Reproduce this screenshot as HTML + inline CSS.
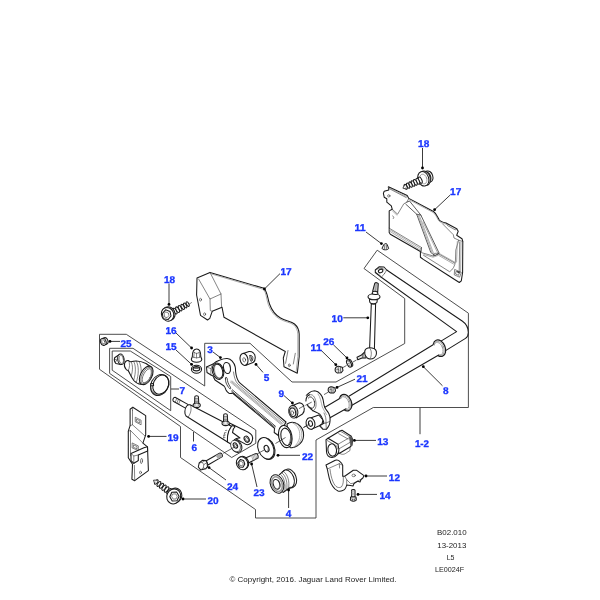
<!DOCTYPE html>
<html><head><meta charset="utf-8"><title>B02.010</title>
<style>
html,body{margin:0;padding:0;background:#fff;}
body{width:600px;height:600px;overflow:hidden;font-family:"Liberation Sans",sans-serif;}
svg{display:block;position:absolute;left:0;top:0;will-change:transform;}
.fr{fill:none;stroke:#3a3a3a;stroke-width:.9;stroke-linejoin:miter;}
.p{fill:#fff;stroke:#1a1a1a;stroke-width:1.05;stroke-linejoin:round;stroke-linecap:round;}
.n{fill:none;stroke:#1a1a1a;stroke-width:1.05;stroke-linejoin:round;stroke-linecap:round;}
.t{fill:none;stroke:#333;stroke-width:.6;stroke-linejoin:round;stroke-linecap:round;}
.g{fill:none;stroke:#8a8a8a;stroke-width:.7;stroke-linejoin:round;stroke-linecap:round;}
.c{fill:none;stroke:#222;stroke-width:.7;}
.ld line{stroke:#3c3c3c;stroke-width:1;}
.dt circle{fill:#000;}
.lb text{text-rendering:geometricPrecision;font-family:"Liberation Sans",sans-serif;font-weight:bold;font-size:9.8px;fill:#1b36ff;stroke:#1b36ff;stroke-width:.3;text-anchor:middle;}
.ft text{font-family:"Liberation Sans",sans-serif;font-size:7.6px;fill:#222;text-anchor:middle;}
</style></head><body>
<svg width="600" height="600" viewBox="0 0 600 600">
<rect width="600" height="600" fill="#fff"/>
<!-- FRAMES -->
<g class="fr">
<path d="M377.2,250.2 L468.4,313.2 L468.4,407.5 L373.3,407.5 L316,440 L316,518 L255.5,518 L255.5,509.5 L180.5,457.5 L180.5,426.5 L99.5,369.3 L99.5,334.3 L126.3,334.3 L204.7,386 L204.7,343.3 L250,343.3 L292,382 L336,382 L404.7,343.5 L404.7,298.5 L364,268.5 Z"/>
<path d="M109.6,348.3 L133,348.3 L255.8,430 L255.8,443.3 L231.7,457.5 L109.6,373.4 Z"/>
<path d="M112.2,351 L130.3,351 L170.7,376.5 L170.7,410.7 L112.2,370.2 Z"/>
</g>

<!-- SWAY BAR 8 -->
<g id="bar8">
<!-- upper section + bend -->
<path class="p" d="M379.3,266.7 L384,267 L386.7,270 L462.5,321.2 C466,323.6 468.3,328 468.3,332.5 C468.3,335.5 467.3,337.3 465.5,338.4 L444,351.6 L438.5,342.6 L456.6,331.6 L381.3,277.3 L375.3,272.5 L375.3,270 Z"/>
<ellipse class="n" cx="380.6" cy="271" rx="2.3" ry="1.7" transform="rotate(-20 380.6 271)"/><path class="t" d="M377,269.3 C379,267.6 383,267.8 384.6,270 M376.3,272.6 L380.6,276"/>
<path class="t" d="M384.7,273.3 L381.3,277.3 M386.7,270 L384.7,273.3"/>
<!-- right ring -->
<ellipse class="p" cx="439.4" cy="348.2" rx="5.8" ry="8.6" transform="rotate(-22 439.4 348.2)" style="stroke-width:1.25"/>
<ellipse class="g" cx="439" cy="348.4" rx="4.8" ry="7.5" transform="rotate(-22 439 348.4)"/>
<ellipse class="g" cx="438.6" cy="348.6" rx="4" ry="6.6" transform="rotate(-22 438.6 348.6)"/>
<!-- middle bar -->
<path d="M432.7,345 C435.5,344.6 440.5,351.5 438.7,355 L352,405.3 L349.3,396 Z" fill="#fff" stroke="none"/>
<path class="n" d="M432.7,345 L349.3,396 M438.7,355 L352,405.3"/>
<!-- left ring -->
<ellipse class="p" cx="345.6" cy="402.6" rx="5.8" ry="8.6" transform="rotate(-22 345.6 402.6)" style="stroke-width:1.25"/>
<ellipse class="g" cx="345.2" cy="402.8" rx="4.8" ry="7.5" transform="rotate(-22 345.2 402.8)"/>
<ellipse class="g" cx="344.8" cy="403" rx="4" ry="6.6" transform="rotate(-22 344.8 403)"/>
<!-- shaft left of ring -->
<path d="M339.3,398.7 C342,398.3 347.3,405.3 346,408.7 L326,420 L322,409 Z" fill="#fff" stroke="none"/>
<path class="n" d="M339.3,398.7 L322,409 M346,408.7 L326,420"/>
</g>
<!-- PLATE 17 TOP RIGHT -->
<g id="plate17r">
<path class="p" d="M388.4,186.7 L407.2,195.5 L408.8,198.4 L433.5,211.5 C436,213 437,216 439.3,220 C440.5,221.6 443,222.3 446,223 L456.7,228.7 L458.2,231.3 L456.7,235.3 L462,238.7 L462.8,241.5 L462.6,272.5 L461.3,280.8 L459.3,282.5 L448,275.2 L423.3,259.4 L420.4,257.3 L420.4,251.5 L390.3,234.2 L389.2,232.5 L389.2,210.9 L392.2,209.2 L391.3,205.9 L386.8,202.2 L386.8,198.8 L384.2,197.2 L383.4,193.4 L384.2,191.3 L388.8,190 Z"/>
<path class="t" d="M388.8,188.4 L406.3,197.6 M392.2,209.2 L397.6,214.2 L403.8,203.8 L406.8,202.2 L408.8,198.4"/>
<circle class="t" cx="388.8" cy="195.9" r="1.2"/>
<path class="t" d="M392.6,216 L394,217.3 L393.2,218.6"/>
<path class="g" d="M388,187.6 L406.6,196.6 M392.5,211 L397,215.2"/>
<!-- diagonal rib -->
<path class="t" d="M405.8,204.2 L416.7,214.2 L430.8,252.5 L435,255.6 L439.2,253.3 L420.8,215 L416.7,214.2 M406.8,202.2 L409.5,201 L420.8,215" style="stroke-width:.8"/>
<path class="g" d="M418,215 L432.2,253 M419.3,215.3 L433.6,253.6 M423,222 L437.8,253.2"/>
<!-- top right edge double -->
<path class="g" d="M409,199.6 L433,212.4 C435.5,214 436.5,217 438.5,220.5 C440,222.5 443,223.3 445.5,224"/>
<!-- right flange -->
<path class="t" d="M442.7,224 L453.3,234.7 L454,238 L458.7,240.2 L455.8,250 L455.4,261.7 C455,266 452.5,270 449.6,271.7 L423.5,255.3 M458.7,240.2 L462.8,241.5 M446,223 L447.5,225.5 L455.5,230 L456.7,228.7 M459.7,242 L459.2,271.7"/>
<path class="g" d="M461,242 L460.6,272 M457.3,241.5 L456.6,262"/>
<!-- bottom flange -->
<path class="t" d="M389.2,228.2 L421.5,247.5 L421.3,252.6 L433.3,256 L438.7,254 L454.6,263 M420.4,251.5 L421.5,247.5 M433.3,256 L434.7,253.3 L438.7,253.3"/>
<path class="g" d="M389.6,229.6 L421,248.8 M389.6,231.2 L420.5,250.4 M424,254.6 L433,257.2 L438.5,255.3 L453.5,264 M439.5,253.6 L455,262.3"/>
<path class="t" d="M455,269.6 L461.3,272.5 L459.6,277.2 L454.6,275 Z M456.3,271.5 L459.3,272.9 L458.5,275.3 L456,274.2 Z"/><path d="M456.8,270.4 L460,271.9 L459.3,273.6 L457.6,272.6 Z" fill="#333"/>
</g>

<!-- BOLT 18 TOP RIGHT -->
<g id="bolt18r">
<ellipse class="p" cx="428.6" cy="176.6" rx="4.2" ry="5.8" transform="rotate(-18 428.6 176.6)"/>
<ellipse class="p" cx="426.6" cy="177.4" rx="4.2" ry="5.8" transform="rotate(-18 426.6 177.4)"/>
<ellipse class="p" cx="424.8" cy="178.3" rx="5.4" ry="7.4" transform="rotate(-18 424.8 178.3)"/>
<ellipse class="p" cx="423.3" cy="178.8" rx="5.4" ry="7.4" transform="rotate(-18 423.3 178.8)"/>
<ellipse class="g" cx="423.4" cy="179" rx="3.4" ry="5" transform="rotate(-18 423.4 179)"/>
<ellipse class="p" cx="420.3" cy="180.2" rx="1.50" ry="3.34" transform="rotate(155.4 420.3 180.2)" style="stroke-width:1"/>
<ellipse class="p" cx="417.9" cy="181.3" rx="1.45" ry="3.23" transform="rotate(155.4 417.9 181.3)" style="stroke-width:1"/>
<ellipse class="p" cx="415.4" cy="182.4" rx="1.40" ry="3.11" transform="rotate(155.4 415.4 182.4)" style="stroke-width:1"/>
<ellipse class="p" cx="413.0" cy="183.5" rx="1.35" ry="3.00" transform="rotate(155.4 413.0 183.5)" style="stroke-width:1"/>
<ellipse class="p" cx="410.6" cy="184.6" rx="1.30" ry="2.89" transform="rotate(155.4 410.6 184.6)" style="stroke-width:1"/>
<ellipse class="p" cx="408.1" cy="185.7" rx="1.25" ry="2.77" transform="rotate(155.4 408.1 185.7)" style="stroke-width:1"/>
<ellipse class="p" cx="405.7" cy="186.8" rx="1.20" ry="2.66" transform="rotate(155.4 405.7 186.8)" style="stroke-width:1"/>
<path class="p" d="M404.4,185.2 L402.9,188.2 L406.1,189.0" style="stroke-width:.8"/>
</g>
<!-- PLATE 17 LEFT -->
<g id="plate17l">
<path class="p" d="M197,278 L210,272.4 L264,288.3 C267.5,292 267.5,298 269.5,304 C272,311 276,315.5 280.5,318 C285.5,321 291,321.3 294.5,324 C297.5,326.5 299,330 299.2,334 L299.2,356.7 L297.3,373.3 L284,366.7 L283.3,358 L285.3,351.5 L224,317.3 L222,307.2 L212.2,311.3 L209.8,318.3 L207.5,320 L200.5,315.4 L198.7,306 L196.6,295 Z"/>
<path class="t" d="M210,272.4 L221,294 L221.6,307.3 M198.6,279 L210,299 L221,294 M210,299 L210.3,310.5 L212.2,311.3"/>
<path class="g" d="M211,273.8 L263.5,289.4 C266.3,292.6 266.3,298.3 268.2,304.3 C270.8,311.6 274.9,316.4 279.8,319 C285,322 290.5,322.4 293.6,324.8 C296.2,327 297.6,330.3 297.8,334 L297.8,356.5 L296.2,371.5"/>
<path class="t" d="M288,350.5 L285.6,363.3 M295.3,353.3 L293.3,364"/>
<ellipse class="t" cx="200.5" cy="299.7" rx="1" ry="1.4"/>
<ellipse class="t" cx="204.6" cy="314.2" rx="1" ry="1.4"/>
<ellipse class="t" cx="289.3" cy="365.3" rx="0.9" ry="1.4"/>
</g>

<!-- BOLT 18 LEFT -->
<g id="bolt18l">
<path class="t" d="M188.6,304.6 L191.5,302.6"/>
<ellipse class="p" cx="175.1" cy="311.1" rx="1.45" ry="3.22" transform="rotate(-28.9 175.1 311.1)" style="stroke-width:1"/>
<ellipse class="p" cx="177.6" cy="309.7" rx="1.38" ry="3.07" transform="rotate(-28.9 177.6 309.7)" style="stroke-width:1"/>
<ellipse class="p" cx="180.1" cy="308.3" rx="1.32" ry="2.92" transform="rotate(-28.9 180.1 308.3)" style="stroke-width:1"/>
<ellipse class="p" cx="182.7" cy="306.9" rx="1.25" ry="2.77" transform="rotate(-28.9 182.7 306.9)" style="stroke-width:1"/>
<ellipse class="p" cx="185.2" cy="305.5" rx="1.18" ry="2.62" transform="rotate(-28.9 185.2 305.5)" style="stroke-width:1"/>
<ellipse class="p" cx="187.7" cy="304.1" rx="1.11" ry="2.48" transform="rotate(-28.9 187.7 304.1)" style="stroke-width:1"/>
<ellipse class="p" cx="168.8" cy="313.6" rx="6.1" ry="7" transform="rotate(-25 168.8 313.6)"/>
<ellipse class="p" cx="167.6" cy="314.3" rx="6.1" ry="7" transform="rotate(-25 167.6 314.3)"/>
<path class="p" d="M165.6,309.8 L170,311.4 L171,316 L168,319.6 L163.3,318.8 L162.3,313.6 Z"/>
<path class="t" d="M165.8,312 L168.4,313 L168.9,315.6 L167.2,317.6 L164.7,317.1 L164.2,314.2 Z"/>
</g>

<!-- CAP NUT 16 -->
<g id="nut16">
<path class="p" d="M192.3,356.7 C192.3,351.5 193.5,349 196.7,349 C199.8,349 200.8,351.5 200.8,356.7 L201.8,359.2 C201.5,363.2 191.6,363.2 191.3,359.3 Z"/>
<path class="t" d="M192.3,356.7 C194,358.3 199,358.3 200.8,356.7 M196.5,353.5 L196.6,358 M194.2,352.3 C195.5,353.8 198,353.8 199.2,352.3 M194.2,352.3 L193.8,357.3 M199.2,352.3 L199.6,357.3"/>
</g>
<!-- WASHER 15 -->
<g id="washer15">
<ellipse class="p" cx="196.5" cy="369.3" rx="5.1" ry="4"/>
<ellipse class="p" cx="196.4" cy="368.8" rx="3.4" ry="2.1" style="stroke-width:1.2"/>
<path d="M193.8,368.2 C194.5,366.9 198.3,366.9 199,368.2 C198,369 194.8,369 193.8,368.2 Z" fill="#444" stroke="none"/>
</g>
<!-- CLIP 25 -->
<g id="clip25">
<ellipse class="p" cx="105.3" cy="341" rx="2.6" ry="3.4" transform="rotate(-20 105.3 341)"/>
<ellipse class="p" cx="103.3" cy="341.8" rx="2.8" ry="3.6" transform="rotate(-20 103.3 341.8)"/>
<ellipse class="t" cx="103.3" cy="341.8" rx="1.5" ry="2.2" transform="rotate(-20 103.3 341.8)"/>
</g>
<!-- LINK 10 -->
<g id="link10">
<path class="p" d="M371.3,304 L369.6,348.5 L374.4,349 L375.6,304 Z"/>
<path class="p" d="M374.8,283.2 C375.5,282.3 377.8,282.5 378.3,283.7 L377.7,292 L372.6,291.3 Z" style="fill:#c4c4c4"/>
<path class="g" d="M376.3,283.5 L375.3,291.5"/>
<path class="p" d="M369.4,299.5 L369.8,302.2 C371,304.3 375.5,304.5 377,302.2 L377.3,299.5 Z"/>
<ellipse class="p" cx="374" cy="296.8" rx="6" ry="3"/>
<path class="p" d="M372.2,293 C372.5,290.5 377.5,290.8 378,293.2 C378,295 372.2,294.8 372.2,293 Z"/>
<path class="t" d="M368.2,297.5 C369.5,300.3 378.5,300.5 379.8,297.6"/>
<!-- bottom ball joint -->
<path class="p" d="M357,357.3 L357.8,359.8 L362,358 L366,358 L366,350.8 L361.5,355 Z" style="fill:#e6e6e6"/>
<path class="t" d="M363.6,353 L364,358 M362.3,354.3 L362.6,358"/>
<path class="p" d="M364.8,351 C365.5,348.3 368.5,347.5 372,348 C375.3,348.5 376.8,351 376.4,354 C376,357.3 373,359.3 369.8,359 C366.3,358.6 364.2,355 364.8,351 Z"/>
<path class="t" d="M369.8,348.2 C371.8,350.5 372,355.5 370,358.8"/>
</g>
<!-- WASHER 26 -->
<g id="washer26">
<ellipse class="p" cx="350.2" cy="363" rx="2" ry="3.9" transform="rotate(-25 350.2 363)"/>
<ellipse class="p" cx="349" cy="363.5" rx="2" ry="3.9" transform="rotate(-25 349 363.5)"/>
<path class="t" d="M347.8,361.6 L349.6,362 M347.8,363.5 L349.9,364 M348.5,365.4 L350.3,365.8"/>
</g>
<!-- NUT 11 lower -->
<g id="nut11b">
<path class="p" style="fill:#e4e4e4" d="M335.3,368.5 C335.8,366.5 338,366 339.5,366.4 L342.3,367.2 L343,370.5 L341,372.8 L337.3,373 C335.5,372.3 334.8,370.5 335.3,368.5 Z"/>
<path class="t" d="M338.2,366.8 L338.5,372.6 M340.6,367 L340.4,372.6 M336.2,370 C337,368.8 338.5,368.8 339,370"/>
</g>
<!-- NUT 11 upper -->
<g id="nut11a" transform="translate(385.3 247.2) scale(0.92) translate(-385.2 -247.3)">
<path class="p" style="fill:#e4e4e4" d="M383.8,244.2 C384.5,243 386.5,243 387.2,244.2 L388.8,248.6 C388.5,250.6 382,250.8 381.7,248.8 Z"/>
<path class="t" d="M384.6,244.8 L384.2,249.6 M386.4,244.8 L386.7,249.6"/>
</g>
<!-- NUT 21 -->
<g id="nut21">
<path class="p" style="fill:#e4e4e4" d="M328.3,388.6 C328.8,386.8 331,386.5 332.5,387 L335,388 L335.5,391 L333.8,393 L330.5,393 C328.8,392.3 327.8,390.5 328.3,388.6 Z"/>
<path class="t" d="M331,387 L331.3,392.8 M333.2,387.3 L333,392.8 M329.3,390 C330,389 331.2,389 331.8,390"/>
</g>
<g class="c">
<path d="M343,367.5 L346.5,365.5 M353,362 L356.5,360 M324,394.6 L328,392.3"/>
</g>
<!-- BOOT KIT 7 -->
<g id="boot7">
<!-- small clamp -->
<path class="p" d="M119.8,354.2 L114.6,357.8 C114,359.5 114.6,362 116,363.6 L120.5,364.6 Z"/>
<ellipse class="p" cx="120.9" cy="359.3" rx="3.2" ry="5.3" transform="rotate(-8 120.9 359.3)"/>
<ellipse class="t" cx="121.2" cy="359.4" rx="2.2" ry="4.2" transform="rotate(-8 121.2 359.4)"/>
<path class="t" d="M114.9,359.6 L116.3,359.2 L116.6,361 L115.3,361.4"/>
<!-- boot body -->
<path class="p" d="M124.6,363.4 C125.3,361.3 127.3,360.3 128.6,360.6 C129.3,361.3 130,361.8 131,361.7 C135,360.5 141,361 146,363.5 L151,367 L141.5,384.5 C138,384 135.3,382.3 133.8,380.5 C131.5,377.5 130,373.5 128.2,370.6 C127.3,370.3 126.6,370 126.2,369.5 C124.8,368 124,365.5 124.6,363.4 Z"/>
<path class="t" d="M128.6,360.6 C130,363.5 130,367.5 128.2,370.6 M131,361.7 C133,365 133,370 131.2,376 M133.6,361.3 C136,365.5 136,372 133.8,380 M136.3,361.2 C139,366 139,374 136.3,382.3 M139.2,361.5 C142,367 142,376 138.8,383.8"/>
<ellipse class="p" cx="146.2" cy="375.4" rx="5.7" ry="10" transform="rotate(28 146.2 375.4)"/>
<ellipse class="t" cx="146.6" cy="375.5" rx="4.6" ry="8.8" transform="rotate(28 146.6 375.5)"/>
<ellipse class="t" cx="147" cy="375.7" rx="3.6" ry="7.7" transform="rotate(28 147 375.7)"/>
<path class="g" d="M150.5,369.5 C152.5,372.5 150.5,379 146.5,383.3"/>
<!-- big clamp ring -->
<ellipse class="n" cx="159.6" cy="385" rx="8.6" ry="10.9" transform="rotate(27 159.6 385)"/>
<ellipse class="n" cx="160.9" cy="384.6" rx="7.6" ry="10" transform="rotate(27 160.9 384.6)"/>
<path class="t" d="M155.5,394.2 C158,396 162,395 165,392 M151,387.5 C151.5,390.5 153,393 155.5,394.2"/>
<path class="p" d="M150.6,383.8 L153.4,383.4 L153.6,385.6 L150.8,386 Z"/>
</g>
<!-- CYLINDER 6 -->
<g id="cyl6">
<!-- rod -->
<path class="p" d="M175,397.3 L188.3,404.6 L186.3,408.6 L173.3,401.2 C172.3,400 173.3,397.3 175,397.3 Z"/>
<path class="t" d="M176.8,398.3 L175.2,402.3 M178.5,399.2 L176.9,403.2 M180.2,400.2 L178.6,404.2"/>
<!-- upper lug -->
<path class="p" d="M229.5,423 L248.3,432.3 C251.6,434 253.2,437 252.4,440.2 C251.6,443.2 249,445 246.3,444.6 L229,435 Z"/>
<ellipse class="p" cx="246.7" cy="439.2" rx="2.3" ry="3.3" transform="rotate(-30 246.7 439.2)"/>
<ellipse class="t" cx="247" cy="439.4" rx="1.3" ry="2.1" transform="rotate(-30 247 439.4)"/>
<!-- body -->
<path class="p" d="M190,404.8 L231.5,426.3 C229,430 227.3,436 227.5,442 L186,416 C184.3,414 184.5,409 186.5,406.3 C187.5,405 189,404.5 190,404.8 Z"/>
<path class="t" d="M190,404.8 C192,406.5 191.5,413 188,417.3"/>
<!-- clevis body -->
<path class="p" d="M231.5,426.3 C229.5,429 228,432 227.6,436 C227.3,439 227.4,441 227.5,442 L231.5,444.5 C233,440 236,437.5 240,438 L232.5,432.5 C232.5,430 233.5,428 235,426.8 L233,425.5 Z"/>
<path class="t" d="M226,432.5 L224.5,433 M225.3,435 L223.8,435.4 M225,437.6 L223.6,437.8 M226.8,430.3 L225.5,430.5 M224.5,433 L223.6,437.8"/>
<!-- lower lug -->
<ellipse class="p" cx="236.6" cy="446.4" rx="5" ry="6.3" transform="rotate(-30 236.6 446.4)"/>
<ellipse class="p" cx="235.6" cy="446" rx="4.6" ry="6" transform="rotate(-30 235.6 446)" style="stroke-width:.6"/>
<ellipse class="p" cx="235.4" cy="445.5" rx="1.9" ry="2.9" transform="rotate(-30 235.4 445.5)"/>
<ellipse class="t" cx="235.8" cy="445.8" rx="1" ry="1.8" transform="rotate(-30 235.8 445.8)"/>
<!-- bleed screws -->
<g id="bs1">
<path class="p" d="M194.8,396.8 C194.8,395.4 198.4,395.4 198.4,396.8 L198.8,404 L194.6,404 Z"/>
<path class="t" d="M194.8,398.4 L198.4,398.4 M194.8,400 L198.5,400 M194.7,401.6 L198.6,401.6"/>
<ellipse class="p" cx="196.7" cy="405.3" rx="3.6" ry="2.3"/>
<ellipse class="g" cx="196.7" cy="405" rx="2.3" ry="1.3"/>
</g>
<g transform="translate(28.9 18)">
<path class="p" d="M194.8,396.8 C194.8,395.4 198.4,395.4 198.4,396.8 L198.8,404 L194.6,404 Z"/>
<path class="t" d="M194.8,398.4 L198.4,398.4 M194.8,400 L198.5,400 M194.7,401.6 L198.6,401.6"/>
<ellipse class="p" cx="196.7" cy="405.3" rx="3.6" ry="2.3"/>
<ellipse class="g" cx="196.7" cy="405" rx="2.3" ry="1.3"/>
</g>
</g>
<g class="c"><path d="M234.6,447 L223.3,453.3"/></g>
<!-- LINK ARM 3 -->
<g id="arm3">
<!-- arm + big end silhouette -->
<path class="p" d="M206.5,367 L213,364 C215,362 217.5,360.8 220,360 C222.5,359 225,358.3 227.3,358.5 C229.5,358.7 231,359.8 232.2,361.2 C233.8,363 234.8,364.8 235.2,366.8 C235.6,368.5 235.5,370 235.6,371.5 C236,375.5 237,379.5 239.5,382.7 L286,422 L279,436 L274.2,432.5 L274.5,428.3 L232.5,393 C231.5,393.6 230.2,393.7 229,393.3 C227.6,392.6 226.6,391.3 226,390 C225.3,388 224.8,386.8 224,386 L215,380 C214,378.3 213.6,377 213,376 L211,375 L207,372.5 Z"/>
<!-- inner web lines -->
<path class="t" d="M233.5,372 C234,376.5 235.3,381 237.5,383.6 L284.5,423"/>
<path class="g" d="M232,380.9 L283,423.7 M231,381.3 L282,424.1 M230.3,382 L281,424.5"/>
<path class="n" d="M232.3,389.8 L275.5,426.3 M231.5,391 L275,427.4" style="stroke-width:.8"/>
<path class="n" d="M225.6,378 C224.8,381 226.6,385.3 229.6,388.6 C230.6,389.4 231.2,388.4 230.4,387.2 C228.2,384 227.3,381 227.2,378.6 C227,377.4 226,377 225.6,378 Z" style="stroke-width:.8"/>
<!-- holes -->
<ellipse class="p" cx="218" cy="371.2" rx="5.6" ry="8.3" transform="rotate(-15 218 371.2)"/>
<ellipse class="p" cx="218.2" cy="371.2" rx="4.4" ry="7.2" transform="rotate(-15 218.2 371.2)"/>
<path class="g" d="M215.3,365.2 C213.5,369 214.5,375.5 218.5,378.3"/>
<ellipse class="p" cx="227" cy="368" rx="3.4" ry="5.6" transform="rotate(-12 227 368)"/>
<path class="t" d="M229,363 C231,365 231,370.5 229.3,373"/>
<path class="t" d="M213,364 C211,366.5 210.3,370 211,375 M206.5,367 L210.8,368.6"/>
<!-- small end ring -->
<path class="p" d="M287,424 C290,422 294.5,422 298,424.3 C301.5,426.7 303.8,431 303.6,435.5 C303.4,440 300.5,444 297,446 C294.5,447.5 292,448 290,447.5 Z"/>
<path class="g" d="M292.5,422.8 C297.5,425 300,430 299.8,435.5 C299.6,440.5 297,444.5 293.5,447.3 M296,423.3 C300,426 302,430.8 301.8,435.5 C301.6,440 299,444 295.5,446.8"/>
<ellipse class="p" cx="285.3" cy="436.5" rx="6.6" ry="11.3" transform="rotate(-12 285.3 436.5)"/>
<ellipse class="p" cx="286" cy="436.8" rx="5" ry="8.8" transform="rotate(-12 286 436.8)"/>
<path class="t" d="M289,428.8 C291.5,431.5 291.3,441 288.3,445"/>
</g>
<!-- BUSH 5 -->
<g id="bush5">
<path class="p" d="M244,353.3 L249,351.6 C252.5,351.3 255,353.5 255.2,357 C255.4,360 254.5,361.8 253,362.6 L246,365.3 Z"/>
<ellipse class="p" cx="244" cy="359.4" rx="3.9" ry="6.1" transform="rotate(-12 244 359.4)"/>
<ellipse class="t" cx="244.2" cy="359.8" rx="1.4" ry="2.1" transform="rotate(-12 244.2 359.8)"/>
<path class="n" d="M250,355.5 C251.3,355 252.6,356 252.8,357.5 C253,359.5 252.3,361 251,361.5 C250,360 249.6,357.3 250,355.5 Z M251,356.5 L252,360.3" style="stroke-width:.8"/>
</g>
<!-- BUSH 9 -->
<g id="bush9">
<path class="p" d="M293.3,405.3 L298.8,402.9 C301.6,402.5 304,405 304.3,408.3 C304.5,411 303.6,413 302.5,414 L296.3,417.9 Z"/>
<ellipse class="p" cx="293.3" cy="411.7" rx="4.5" ry="6.4" transform="rotate(-12 293.3 411.7)"/>
<ellipse cx="293" cy="412" rx="3.5" ry="5.2" transform="rotate(-12 293 412)" fill="none" stroke="#aaa" stroke-width="1.2"/><ellipse class="p" cx="292.7" cy="412.2" rx="2.9" ry="4.3" transform="rotate(-12 292.7 412.2)"/>
<ellipse class="t" cx="292.3" cy="412.8" rx="1.4" ry="2" transform="rotate(-12 292.3 412.8)"/>
</g>
<!-- WASHER 22 -->
<g id="washer22">
<ellipse class="p" cx="266.8" cy="448.6" rx="7.6" ry="11.2" transform="rotate(-22 266.8 448.6)"/>
<ellipse class="p" cx="265.8" cy="448.3" rx="7.6" ry="11.2" transform="rotate(-22 265.8 448.3)"/>
<ellipse class="p" cx="266.6" cy="448.6" rx="2.3" ry="3.4" transform="rotate(-22 266.6 448.6)"/>
<path class="t" d="M267.5,445.8 C268.8,447 268.6,450.5 267,451.6"/>
</g>
<g class="c"><path d="M275.5,443.5 L285.5,437.5 M303.5,427.5 L310.5,423.6 M256.5,454.3 L264.5,449.8 M299,408.6 L304.6,405.5 M318.5,423.5 L322.5,421.2"/></g>
<!-- LEVER (bar end) -->
<g id="lever">
<!-- lower boss -->
<path class="p" d="M310.5,418 L318.8,415 L323,420 L322,424 L319.3,425.8 L311.3,429.2 Z"/>
<ellipse class="p" cx="310.5" cy="423.5" rx="4.4" ry="5.8" transform="rotate(-12 310.5 423.5)"/>
<ellipse class="p" cx="310.5" cy="423.6" rx="2" ry="2.8" transform="rotate(-12 310.5 423.6)"/>
<!-- arm body -->
<path class="p" d="M305.9,401 C305,397 306.5,394.5 308.8,393.2 C310.5,391.5 312.5,390.8 314.7,390.8 C317,391 319,392.3 320.5,394.2 C322,396 322.8,398 323.2,400.2 C323.6,403 324,405.5 324.8,407.5 C326,410 327.8,411.5 328.8,413.5 C329.8,415.5 330.2,418 330.1,420.2 C330,422 329.8,423.5 329.2,425 C328.3,427 327.3,428.3 326.3,429.3 L323,429.3 L319.7,425.8 L323.8,423.3 C323.8,422 323.5,421 323,420 C322,417.5 321,415.5 319.7,414.2 C317.5,412.5 315,412 313,410.8 C311,409.5 309.5,407.8 308.8,405.8 L307.3,404.6 Z"/>
<path class="t" d="M305.9,401 C306,397.5 307.5,395.5 309.5,394.8 C312,394 314,396 315,398.5 C316,401 316.3,404 315.9,406.7 C315.5,408.5 314.5,410 313,410.8"/>
<ellipse class="p" cx="311" cy="402.6" rx="3.6" ry="5.8" transform="rotate(-12 311 402.6)" style="stroke-width:.7"/>
<path d="M304,396 L308,395.5 L309,408 L304.5,408 Z" fill="#fff" stroke="none"/>
<path class="n" d="M305.9,401 C306,397.5 307.5,395.5 309.5,394.8 M307.3,404.6 C307.8,406.3 309.5,408 311.3,408.3"/>
<path class="t" d="M324,413 C325.5,415.5 326.3,419 326,423 M323.8,423.3 L326,423 L329.5,421.5 M326.3,429.3 L326,423 M323,429.3 L321.5,426.8"/>
<path class="g" d="M318,394 C320.5,397 321,402 322.3,407 C323.3,410 325.5,412 326.5,414.5"/>
</g>
<!-- BOLT 24 -->
<g id="bolt24">
<path class="p" d="M206.3,460.7 L219.5,453.2 C221.5,452.8 223,455 222.3,456.6 L208,465 Z"/>
<path d="M215.6,455.6 L219.5,453.4 C221.2,453.2 222.6,455 222,456.6 L218,459 Z" fill="#a8a8a8" stroke="none"/>
<path class="p" d="M198.3,467 L199.2,463 L202.3,460.3 L205.6,460.4 L207,462.5 L207.5,466.6 L205.8,468.7 L200.6,469.9 Z"/>
<path class="t" d="M199.2,463 L202.2,462.3 L203.8,464.6 L203.3,468 L200.6,469.9 M202.2,462.3 L205.6,460.4 M203.8,464.6 L207,462.5 M203.3,468 L205.8,468.7"/>
</g>
<!-- BOLT 23 -->
<g id="bolt23">
<path class="p" d="M245.5,458 L256,453.5 C257.5,453.6 258.5,456 258,458 L247.5,463.5 Z"/>
<path class="g" d="M251.5,455.5 L253,460.3 M252.8,455 L254.3,459.7 M254.1,454.4 L255.6,459 M255.4,453.9 L256.9,458.4"/>
<ellipse class="p" cx="243" cy="462.8" rx="5.6" ry="6.6" transform="rotate(-22 243 462.8)"/>
<ellipse class="p" cx="242.1" cy="463.3" rx="5.6" ry="6.6" transform="rotate(-22 242.1 463.3)"/>
<path class="p" d="M240.3,459.6 L243.6,460.6 L244.8,464 L243,467.3 L239.3,467 L237.8,463 Z"/>
<path class="t" d="M240.6,461.3 L242.6,462 L243.3,464 L242.2,465.8 L240,465.6 L239.3,463.3 Z"/>
</g>
<!-- BUSH 4 -->
<g id="bush4">
<ellipse class="p" cx="289.6" cy="478.4" rx="6.6" ry="9.6" transform="rotate(-20 289.6 478.4)"/>
<ellipse class="p" cx="287.6" cy="479.2" rx="6.4" ry="9.4" transform="rotate(-20 287.6 479.2)"/>
<path class="p" d="M279.3,474.6 L284.8,470.2 C289,472 291.8,480 290.4,487.2 L283,492.5 Z" style="stroke:none"/>
<path class="n" d="M279.3,474.6 L284.8,470.2 M283,492.5 L290.4,487.2"/>
<path class="t" d="M283.6,471.6 C287.5,474 290,481.5 288.5,488.3 M282,473 C285.8,475.5 288,483 286.6,489.7 M280.5,474.3 C284,477 286,484.5 284.8,491"/>
<ellipse class="p" cx="277" cy="484" rx="6.5" ry="9.5" transform="rotate(-20 277 484)"/>
<ellipse cx="277" cy="484.1" rx="5" ry="7.6" transform="rotate(-20 277 484.1)" fill="none" stroke="#9a9a9a" stroke-width="1.6"/>
<ellipse class="p" cx="276.6" cy="484.3" rx="3.2" ry="5" transform="rotate(-20 276.6 484.3)"/>
<path class="t" d="M278.3,480.3 C280.3,482 280.3,486.5 278.3,488.6"/>
</g>
<!-- BUSH 13 -->
<g id="bush13">
<path class="p" d="M328,438.3 L340,431 L342,430.3 L351.3,436.3 L352.7,439.7 L352,445.2 L350,447 L338.7,453.7 L336,452 Z"/>
<path class="t" d="M338,444.3 L350,437.3 M338.7,449 L351,441.8 M340,431 L349.3,436.5 L350.7,445.5 M338.7,433.7 L348,439"/>
<path class="g" d="M350.2,437 L351.5,445.4 M351,436.8 L352.2,445"/>
<path d="M349.3,436.5 L351.3,436.3 L352.7,439.7 L352,445.2 L350.7,445.5 Z" fill="#555" stroke="none"/>
<path class="p" d="M326,439.7 L328,438.3 L338,444.3 L338.9,449.5 C339.2,453.5 336,457.3 332,457.5 C328.6,457.2 326.7,454.6 326.5,451.7 Z"/>
<ellipse class="p" cx="332.2" cy="450" rx="4.3" ry="6.2" transform="rotate(-10 332.2 450)"/>
<path class="t" d="M327.3,440.6 L336.8,446 L337.3,449"/>
<path class="t" d="M338.7,452 C340,454.5 343,455 345.5,453.5 L350,450.5 L350,447"/>
</g>
<!-- CLAMP 12 -->
<g id="clamp12">
<path class="p" d="M326,465 L335.3,460.3 C337,459.8 339,460.5 340,461.7 C341.5,463 342.5,464 342.7,465.3 L342.7,476.3 L344.7,476.3 L353.3,470.3 L356.7,470.3 L364,475.7 L362.7,478.3 L361,479.5 L360,482 L357.5,481.3 L354,483.5 L353,486 L350.5,485.5 L346.7,485 C346,488 344.5,490 342.7,490.5 C341,491.3 339.5,491.3 338,491 C335.5,490 334,488.5 332.7,486.3 C331,484 330,481 329.3,478.3 C328.5,475 327.8,472 327.3,469 Z"/>
<path class="t" d="M327.3,469 L339.3,463.7 L342.7,465.3 M330,469.3 C330.5,473.5 331.3,477.5 332.7,481 C334,484.3 335.5,486.5 337.3,487.2 C339,487.8 340.5,487.5 341.3,487 C342.5,485.5 343.2,483.5 343.3,481 L343.3,476.3 M339.3,463.7 L339.6,468"/>
<path class="t" d="M346.7,479.7 L350.7,483.7 L354,483 L362.7,478.3 M344.7,476.3 L346.7,479.7 L346.7,485"/>
<ellipse class="t" cx="353.7" cy="475.4" rx="1.7" ry="1.3"/>
</g>
<!-- BOLT 14 -->
<g id="bolt14">
<path class="p" d="M351.6,490.3 C351.6,489.3 355,489.3 355,490.3 L355,497 L351.6,497 Z"/>
<path class="g" d="M351.6,491.8 L355,491.8 M351.6,493.3 L355,493.3 M351.6,494.8 L355,494.8"/>
<path class="p" d="M350.6,497 L356,497 L356.3,500 C355.5,501.6 351.3,501.6 350.4,500 Z"/>
<path class="t" d="M350.6,498.6 C352,499.5 354.8,499.5 356.2,498.6 M352.5,499.2 L352.6,501 M354.4,499.2 L354.4,501"/>
</g>
<!-- BRACKET 19 -->
<g id="bracket19">
<path class="p" d="M130.1,409.2 L132.8,407.3 L145.7,415.6 L145.7,434.9 L142.9,443.1 L147.5,446.8 L148.4,470.6 L134.7,480.7 L131.9,479.3 L132.5,464.2 L128.3,457.8 L128.3,431.2 L130.1,425.7 Z"/>
<path class="t" d="M132.5,410.3 L132.5,424.8 L144.8,435.8 M130.1,425.7 L132.5,424.8 M128.3,431.2 L130.5,430.5 L142.9,443.1 M130.5,430.5 L130.5,455.8 M134.4,465.4 L134.7,480.7 M132.8,407.3 L132.5,410.3"/>
<path class="t" d="M135.6,417.4 L141.1,420.2 L141.1,424.8 L135.6,422 Z M136.8,419.3 L139.8,420.8 L139.8,423 L136.8,421.5 Z"/>
<path class="t" d="M132.5,443.1 L138.3,445.9 L138.3,450.5 L132.5,448.1 Z M133.8,445 L137,446.5 L137,448.8 L133.8,447.5 Z"/>
<path class="p" d="M131,453.4 L143.9,447.7 L147.5,446.8 L147.6,451 L138.3,455 L138.3,460.6 L133.8,463.3 L131,460.6 Z"/>
<path class="t" d="M131,453.4 L133.8,456 L138.3,455 M133.8,456 L133.8,463.3 M132.5,464.2 L138.3,460.6"/>
<ellipse class="t" cx="141.5" cy="461" rx="1" ry="2.6" transform="rotate(8 141.5 461)"/>
<ellipse class="t" cx="140.5" cy="472.5" rx="1" ry="1.3"/>
</g>
<!-- BOLT 20 -->
<g id="bolt20">
<ellipse class="p" cx="169.2" cy="491.4" rx="1.54" ry="3.42" transform="rotate(-144.4 169.2 491.4)" style="stroke-width:1"/>
<ellipse class="p" cx="166.6" cy="489.5" rx="1.46" ry="3.25" transform="rotate(-144.4 166.6 489.5)" style="stroke-width:1"/>
<ellipse class="p" cx="164.0" cy="487.7" rx="1.39" ry="3.08" transform="rotate(-144.4 164.0 487.7)" style="stroke-width:1"/>
<ellipse class="p" cx="161.5" cy="485.8" rx="1.31" ry="2.92" transform="rotate(-144.4 161.5 485.8)" style="stroke-width:1"/>
<ellipse class="p" cx="158.9" cy="484.0" rx="1.24" ry="2.75" transform="rotate(-144.4 158.9 484.0)" style="stroke-width:1"/>
<ellipse class="p" cx="156.3" cy="482.1" rx="1.16" ry="2.58" transform="rotate(-144.4 156.3 482.1)" style="stroke-width:1"/>
<path class="p" d="M156.9,480.1 L153.5,480.2 L154.6,483.4" style="stroke-width:.8"/>
<ellipse class="p" cx="174.8" cy="495.6" rx="6.9" ry="7.6" transform="rotate(25 174.8 495.6)"/>
<ellipse class="p" cx="173.7" cy="496.4" rx="6.9" ry="7.6" transform="rotate(25 173.7 496.4)"/>
<path class="p" d="M171.8,492.2 L176.6,492 L179.1,496.2 L177,500.8 L172.2,501 L169.8,496.8 Z"/>
<path class="t" d="M173,494 L175.8,493.9 L177.2,496.4 L176,499 L173.2,499.1 L171.8,496.7 Z"/>
</g>
<g class="c"><path d="M305.4,405.4 L311.7,402.1 M303.3,427.5 L310,423.8"/></g>

<g class="ld">
<line x1="422.5" y1="148" x2="422.5" y2="168"/>
<line x1="450.1" y1="195.1" x2="434.6" y2="209.7"/>
<line x1="366" y1="232" x2="381.4" y2="243.6"/>
<line x1="169" y1="283.5" x2="169" y2="304.4"/>
<line x1="280" y1="273.6" x2="264.4" y2="289"/>
<line x1="176" y1="333" x2="191.6" y2="348"/>
<line x1="176" y1="350" x2="191.6" y2="364.4"/>
<line x1="110" y1="341.4" x2="120" y2="341.4"/>
<line x1="213" y1="352" x2="220.4" y2="357.6"/>
<line x1="256" y1="364.4" x2="263" y2="372.4"/>
<line x1="171" y1="389" x2="179" y2="389"/>
<line x1="284" y1="395.6" x2="292.4" y2="403"/>
<line x1="343.3" y1="317.8" x2="367.8" y2="317.8"/>
<line x1="333.3" y1="344.7" x2="347" y2="358"/>
<line x1="320.8" y1="350" x2="335.8" y2="364.7"/>
<line x1="355" y1="379.2" x2="337" y2="387.4"/>
<line x1="423.3" y1="366.7" x2="442.5" y2="385.8"/>
<line x1="420" y1="407.5" x2="420" y2="434.2"/>
<line x1="354.4" y1="440.4" x2="376" y2="440.4"/>
<line x1="366" y1="476" x2="387" y2="476"/>
<line x1="358" y1="494.4" x2="377" y2="494.4"/>
<line x1="278" y1="455.3" x2="300" y2="455.3"/>
<line x1="251.6" y1="464" x2="257" y2="487"/>
<line x1="209" y1="467.6" x2="226" y2="480"/>
<line x1="288.6" y1="490" x2="288.6" y2="508"/>
<line x1="183" y1="499" x2="206" y2="499"/>
<line x1="148.6" y1="436.4" x2="166.5" y2="436.4"/>
<line x1="193.5" y1="432" x2="193.5" y2="441.5"/>
</g><g class="dt">
<circle cx="422.5" cy="168" r="1.4"/>
<circle cx="434.6" cy="209.7" r="1.4"/>
<circle cx="381.4" cy="243.6" r="1.4"/>
<circle cx="169" cy="304.4" r="1.4"/>
<circle cx="264.4" cy="289" r="1.4"/>
<circle cx="191.6" cy="348" r="1.4"/>
<circle cx="191.6" cy="364.4" r="1.4"/>
<circle cx="110" cy="341.4" r="1.4"/>
<circle cx="220.4" cy="357.6" r="1.4"/>
<circle cx="256" cy="364.4" r="1.4"/>
<circle cx="292.4" cy="403" r="1.4"/>
<circle cx="367.8" cy="317.8" r="1.4"/>
<circle cx="347" cy="358" r="1.4"/>
<circle cx="335.8" cy="364.7" r="1.4"/>
<circle cx="337" cy="387.4" r="1.4"/>
<circle cx="423.3" cy="366.7" r="1.4"/>
<circle cx="354.4" cy="440.4" r="1.4"/>
<circle cx="366" cy="476" r="1.4"/>
<circle cx="358" cy="494.4" r="1.4"/>
<circle cx="278" cy="455.3" r="1.4"/>
<circle cx="251.6" cy="464" r="1.4"/>
<circle cx="209" cy="467.6" r="1.4"/>
<circle cx="288.6" cy="490" r="1.4"/>
<circle cx="183" cy="499" r="1.4"/>
<circle cx="148.6" cy="436.4" r="1.4"/>
</g><g class="lb">
<text x="423.7" y="146.70" textLength="11.2" lengthAdjust="spacingAndGlyphs">18</text>
<text x="455.7" y="195.10" textLength="11.2" lengthAdjust="spacingAndGlyphs">17</text>
<text x="360" y="231.30" textLength="11.2" lengthAdjust="spacingAndGlyphs">11</text>
<text x="169.6" y="282.60" textLength="11.2" lengthAdjust="spacingAndGlyphs">18</text>
<text x="286" y="275.00" textLength="11.2" lengthAdjust="spacingAndGlyphs">17</text>
<text x="171" y="334.00" textLength="11.2" lengthAdjust="spacingAndGlyphs">16</text>
<text x="171" y="350.20" textLength="11.2" lengthAdjust="spacingAndGlyphs">15</text>
<text x="126" y="346.60" textLength="11.2" lengthAdjust="spacingAndGlyphs">25</text>
<text x="210" y="352.60" textLength="5.6" lengthAdjust="spacingAndGlyphs">3</text>
<text x="266.6" y="380.80" textLength="5.6" lengthAdjust="spacingAndGlyphs">5</text>
<text x="182.4" y="394.00" textLength="5.6" lengthAdjust="spacingAndGlyphs">7</text>
<text x="281.3" y="396.60" textLength="5.6" lengthAdjust="spacingAndGlyphs">9</text>
<text x="337.2" y="322.40" textLength="11.2" lengthAdjust="spacingAndGlyphs">10</text>
<text x="328.8" y="345.10" textLength="11.2" lengthAdjust="spacingAndGlyphs">26</text>
<text x="316.2" y="350.80" textLength="11.2" lengthAdjust="spacingAndGlyphs">11</text>
<text x="362" y="382.40" textLength="11.2" lengthAdjust="spacingAndGlyphs">21</text>
<text x="445.8" y="394.00" textLength="5.6" lengthAdjust="spacingAndGlyphs">8</text>
<text x="422" y="446.60" textLength="14.2" lengthAdjust="spacingAndGlyphs">1-2</text>
<text x="382.8" y="444.50" textLength="11.2" lengthAdjust="spacingAndGlyphs">13</text>
<text x="394.4" y="480.60" textLength="11.2" lengthAdjust="spacingAndGlyphs">12</text>
<text x="385" y="498.50" textLength="11.2" lengthAdjust="spacingAndGlyphs">14</text>
<text x="307.6" y="459.80" textLength="11.2" lengthAdjust="spacingAndGlyphs">22</text>
<text x="259" y="496.20" textLength="11.2" lengthAdjust="spacingAndGlyphs">23</text>
<text x="232.6" y="490.20" textLength="11.2" lengthAdjust="spacingAndGlyphs">24</text>
<text x="288.6" y="517.20" textLength="5.6" lengthAdjust="spacingAndGlyphs">4</text>
<text x="213" y="504.40" textLength="11.2" lengthAdjust="spacingAndGlyphs">20</text>
<text x="173" y="441.40" textLength="11.2" lengthAdjust="spacingAndGlyphs">19</text>
<text x="194.2" y="450.60" textLength="5.6" lengthAdjust="spacingAndGlyphs">6</text>
</g>
<g class="ft">
<text x="451.8" y="535" textLength="29.6" lengthAdjust="spacingAndGlyphs">B02.010</text>
<text x="451.8" y="547.5" textLength="29" lengthAdjust="spacingAndGlyphs">13-2013</text>
<text x="450.6" y="560" textLength="7.8" lengthAdjust="spacingAndGlyphs">L5</text>
<text x="449.6" y="572.3" textLength="29.2" lengthAdjust="spacingAndGlyphs">LE0024F</text>
<text x="313" y="582.3" textLength="167" lengthAdjust="spacingAndGlyphs">© Copyright, 2016. Jaguar Land Rover Limited.</text>
</g>
</svg>
</body></html>
